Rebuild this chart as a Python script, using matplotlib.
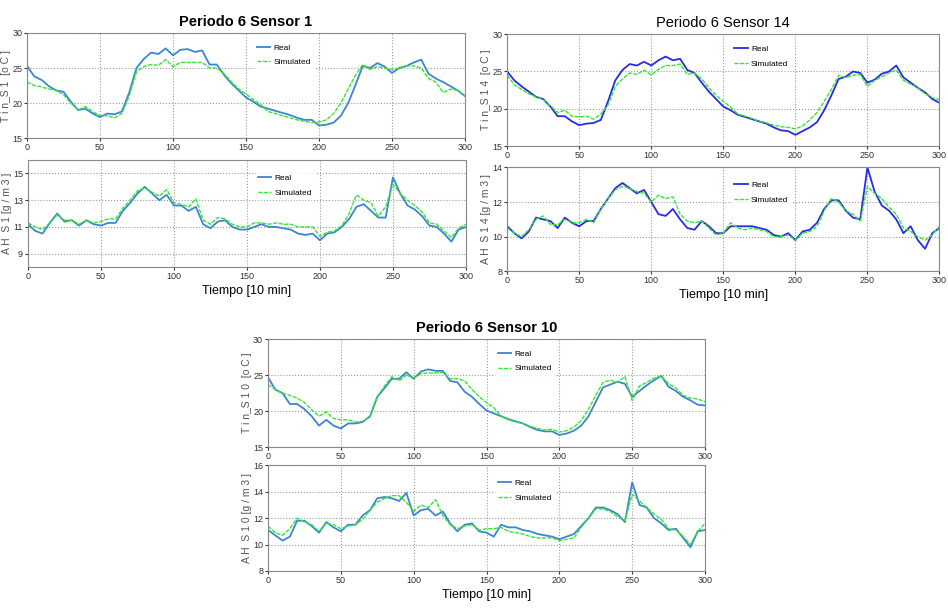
import numpy as np
import matplotlib
matplotlib.use("Agg")
import matplotlib.pyplot as plt
from matplotlib import font_manager

fams = {f.name for f in font_manager.fontManager.ttflist}
NARROW = 'Liberation Sans Narrow' if 'Liberation Sans Narrow' in fams else 'Liberation Sans'
plt.rcParams['font.family'] = [NARROW, 'DejaVu Sans']

t = np.arange(0, 301, 5)

s1_temp_real = [25.3, 23.8, 23.3, 22.4, 21.8, 21.6, 20.2, 19.0, 19.2, 18.5, 18.0, 18.5, 18.4, 18.8, 21.5, 25.0,
                26.3, 27.2, 27.0, 27.8, 26.8, 27.6, 27.7, 27.3, 27.5, 25.5, 25.5, 24.0, 22.8, 21.8, 20.8, 20.2,
                19.5, 19.2, 18.9, 18.6, 18.3, 17.9, 17.6, 17.6, 16.8, 16.9, 17.2, 18.2, 20.0, 22.6, 25.3, 25.0,
                25.7, 25.2, 24.3, 25.0, 25.3, 25.8, 26.2, 24.2, 23.5, 23.0, 22.4, 21.8, 21.0]
s1_temp_sim = [23.0, 22.5, 22.3, 22.0, 21.8, 21.2, 20.0, 19.0, 19.5, 18.8, 18.2, 18.2, 17.9, 18.5, 21.0, 24.5,
               25.2, 25.5, 25.4, 26.2, 25.2, 25.8, 25.8, 25.8, 25.8, 25.0, 25.0, 24.2, 23.0, 22.0, 21.3, 20.5,
               19.8, 18.8, 18.5, 18.2, 17.9, 17.6, 17.4, 17.2, 17.3, 17.6, 18.5, 20.0, 22.0, 24.0, 25.5, 24.8,
               25.2, 25.0, 24.8, 25.0, 25.3, 25.3, 25.0, 23.5, 23.0, 21.5, 22.0, 21.8, 21.0]
s1_hum_real = [11.2, 10.7, 10.5, 11.3, 12.0, 11.4, 11.5, 11.1, 11.5, 11.2, 11.1, 11.3, 11.3, 12.2, 12.8, 13.5,
               14.0, 13.5, 13.0, 13.4, 12.6, 12.6, 12.2, 12.5, 11.2, 10.9, 11.4, 11.5, 11.0, 10.8, 10.8, 11.0,
               11.2, 11.0, 11.0, 10.9, 10.8, 10.5, 10.4, 10.5, 10.0, 10.5, 10.6, 11.0, 11.6, 12.5, 12.7, 12.2,
               11.7, 11.7, 14.7, 13.5, 12.6, 12.3, 11.8, 11.1, 11.0, 10.5, 9.9, 10.8, 11.0]
s1_hum_sim = [11.3, 11.0, 10.8, 11.3, 11.9, 11.5, 11.5, 11.2, 11.5, 11.3, 11.4, 11.6, 11.6, 12.4, 13.0, 13.7,
              13.9, 13.6, 13.3, 13.8, 12.8, 12.7, 12.5, 13.1, 11.5, 11.2, 11.7, 11.6, 11.2, 11.0, 11.0, 11.3,
              11.3, 11.2, 11.3, 11.2, 11.2, 11.0, 11.0, 11.0, 10.3, 10.6, 10.7, 11.1, 12.0, 13.4, 13.0, 12.8,
              11.8, 12.5, 14.2, 13.5, 13.0, 12.6, 12.1, 11.3, 11.2, 10.7, 10.2, 10.9, 11.2]

s14_temp_real = [25.0, 23.8, 23.0, 22.3, 21.6, 21.3, 20.3, 19.0, 19.0, 18.3, 17.8, 18.0, 18.1, 18.5, 21.0, 23.8,
                 25.2, 26.0, 25.8, 26.3, 25.8, 26.5, 27.0, 26.5, 26.7, 25.2, 24.8, 23.5, 22.3, 21.3, 20.3, 19.8,
                 19.2, 18.9, 18.6, 18.3, 18.0, 17.5, 17.1, 17.0, 16.5, 17.0, 17.5, 18.2, 19.8, 21.8, 24.0, 24.3,
                 25.0, 24.8, 23.5, 23.9, 24.7, 25.0, 25.8, 24.2, 23.5, 22.8, 22.2, 21.3, 20.8]
s14_temp_sim = [24.5, 23.2, 22.6, 22.0, 21.6, 21.2, 20.4, 19.5, 19.8, 19.0, 18.9, 19.0, 18.6, 19.3, 20.5, 23.0,
                24.0, 24.8, 24.6, 25.2, 24.5, 25.3, 25.8, 25.8, 26.0, 24.6, 24.8, 24.0, 22.8, 21.8, 21.0, 20.2,
                19.3, 19.0, 18.7, 18.3, 18.1, 17.8, 17.6, 17.5, 17.3, 17.7, 18.5, 19.5, 21.0, 22.6, 24.5, 24.2,
                24.5, 24.6, 23.0, 23.8, 24.3, 24.8, 25.2, 23.8, 23.3, 22.8, 22.0, 21.5, 21.2]
s14_hum_real = [10.6, 10.2, 9.9, 10.3, 11.1, 11.0, 10.9, 10.5, 11.1, 10.8, 10.6, 10.9, 10.9, 11.6, 12.2, 12.8,
                13.1, 12.8, 12.5, 12.7, 12.0, 11.3, 11.2, 11.6, 11.0, 10.5, 10.4, 10.9, 10.6, 10.2, 10.2, 10.6,
                10.6, 10.6, 10.6, 10.5, 10.4, 10.1, 10.0, 10.2, 9.8, 10.3, 10.4, 10.8, 11.6, 12.1, 12.1, 11.5,
                11.1, 11.0, 14.0, 12.6, 11.8, 11.5, 11.0, 10.2, 10.6, 9.8, 9.3, 10.2, 10.5]
s14_hum_sim = [10.5, 10.2, 10.0, 10.4, 11.0, 11.2, 10.7, 10.7, 11.0, 10.8, 10.8, 11.0, 10.8, 11.6, 12.2, 12.7,
               12.9, 12.8, 12.6, 12.5, 12.0, 12.4, 12.2, 12.3, 11.3, 10.9, 10.8, 10.9, 10.5, 10.1, 10.2, 10.8,
               10.5, 10.4, 10.5, 10.4, 10.3, 10.0, 10.0, 10.1, 9.8, 10.2, 10.3, 10.6, 11.5, 12.2, 12.0, 11.5,
               11.3, 10.9, 12.9, 12.5, 12.2, 11.7, 11.3, 10.5, 10.3, 10.0, 9.8, 10.1, 10.6]

s10_temp_real = [24.7, 23.0, 22.5, 21.0, 21.0, 20.3, 19.3, 18.0, 18.8, 18.0, 17.6, 18.3, 18.3, 18.5, 19.3, 22.0,
                 23.2, 24.5, 24.5, 25.4, 24.5, 25.5, 25.8, 25.6, 25.6, 24.2, 24.0, 22.7, 22.0, 21.0, 20.1, 19.7,
                 19.3, 18.9, 18.6, 18.3, 17.8, 17.4, 17.2, 17.2, 16.7, 16.9, 17.3, 18.0, 19.3, 21.3, 23.3, 23.7,
                 24.1, 23.8, 22.0, 22.8, 23.6, 24.3, 24.9, 23.4, 22.8, 22.0, 21.5, 20.9, 20.8]
s10_temp_sim = [23.7, 23.0, 22.5, 22.2, 21.8, 21.2, 20.2, 19.3, 19.9, 19.0, 18.8, 18.8, 18.5, 18.6, 19.2, 22.0,
                23.5, 24.8, 24.2, 25.0, 24.6, 25.2, 25.3, 25.3, 25.4, 24.5, 24.5, 24.2, 23.0, 22.0, 21.2, 20.5,
                19.3, 18.8, 18.5, 18.3, 17.9, 17.6, 17.4, 17.5, 17.1, 17.3, 17.8, 18.7, 20.3, 22.2, 24.0, 24.3,
                24.0, 24.8, 21.5, 23.5, 24.0, 24.6, 24.9, 23.8, 23.2, 22.2, 21.8, 21.7, 21.3]
s10_hum_real = [11.1, 10.7, 10.3, 10.6, 11.8, 11.8, 11.4, 10.9, 11.7, 11.3, 11.0, 11.5, 11.5, 12.2, 12.6, 13.5,
                13.6, 13.5, 13.3, 13.9, 12.2, 12.6, 12.7, 12.2, 12.5, 11.6, 11.0, 11.5, 11.6, 11.0, 10.9, 10.6,
                11.5, 11.3, 11.3, 11.1, 11.0, 10.8, 10.7, 10.6, 10.4, 10.6, 10.8, 11.4, 12.0, 12.8, 12.8, 12.6,
                12.3, 11.7, 14.7, 13.0, 12.8, 12.0, 11.6, 11.1, 11.2, 10.5, 9.8, 11.0, 11.1]
s10_hum_sim = [11.4, 10.9, 10.7, 11.2, 12.0, 11.7, 11.5, 11.0, 11.6, 11.5, 11.2, 11.4, 11.5, 11.9, 12.6, 13.2,
               13.5, 13.7, 13.7, 13.2, 12.5, 13.0, 12.8, 13.4, 12.2, 11.5, 11.2, 11.4, 11.5, 11.1, 11.2, 11.2,
               11.3, 11.0, 10.9, 10.8, 10.6, 10.5, 10.5, 10.5, 10.3, 10.4, 10.5, 11.3, 12.0, 12.7, 12.7, 12.5,
               12.1, 11.8, 13.8, 13.3, 12.8, 12.3, 11.9, 11.2, 11.1, 10.6, 10.0, 11.0, 11.6]

xticks = [0, 50, 100, 150, 200, 250, 300]

fig = plt.figure(figsize=(9.48, 6.11), dpi=100)

GREEN = '#33e633'
GRAY = '#555555'

def style(ax, ylim, yticks):
    ax.set_xlim(0, 300)
    ax.set_ylim(*ylim)
    ax.set_xticks(xticks)
    ax.set_yticks(yticks)
    ax.grid(True, linestyle=':', color='#999999', linewidth=0.8)
    ax.tick_params(labelsize=6.5, length=2, pad=1.5, colors='#333333')
    for s in ax.spines.values():
        s.set_color('#888888')
        s.set_linewidth(0.8)

LEG = dict(loc='upper left', fontsize=6, frameon=True, fancybox=False, edgecolor='white',
           handlelength=1.6, handletextpad=0.4, borderpad=0.3, labelspacing=0.8)

def panel(rect_t, rect_h, title, bold, real_c, tr, ts, hr, hs, hlim, hticks, tlabel, hlabel):
    ax1 = fig.add_axes(rect_t)
    ax1.plot(t, tr, color=real_c, lw=1.3, label='Real')
    ax1.plot(t, ts, color=GREEN, lw=1.0, ls=(0, (3, 1)), label='Simulated')
    style(ax1, (15, 30), [15, 20, 25, 30])
    ax1.set_title(title, fontsize=10.5, fontweight='bold' if bold else 'normal', pad=5)
    ax1.set_ylabel(tlabel, fontsize=7.5, color=GRAY, labelpad=1)
    ax1.legend(bbox_to_anchor=(0.51, 0.96), **LEG)
    ax2 = fig.add_axes(rect_h)
    ax2.plot(t, hr, color=real_c, lw=1.3, label='Real')
    ax2.plot(t, hs, color=GREEN, lw=1.0, ls=(0, (3, 1)), label='Simulated')
    style(ax2, hlim, hticks)
    ax2.set_ylabel(hlabel, fontsize=7.5, color=GRAY, labelpad=1)
    ax2.set_xlabel('Tiempo [10 min]', fontsize=9, labelpad=3)
    ax2.legend(bbox_to_anchor=(0.51, 0.93), **LEG)

W = 0.462
panel([0.0285, 0.774, W, 0.172], [0.0295, 0.563, W, 0.175], 'Periodo 6 Sensor 1', True, '#3c86cf',
      s1_temp_real, s1_temp_sim, s1_hum_real, s1_hum_sim, (8, 16), [9, 11, 13, 15],
      'T i n_S 1  [o C ]', 'A H  S 1 [g / m 3 ]')
panel([0.535, 0.761, 0.456, 0.183], [0.535, 0.556, 0.456, 0.170], 'Periodo 6 Sensor 14', False, '#2a2ae6',
      s14_temp_real, s14_temp_sim, s14_hum_real, s14_hum_sim, (8, 14), [8, 10, 12, 14],
      'T i n_S 1 4  [o C ]', 'A H  S 1 4 [g / m 3 ]')
panel([0.2827, 0.268, 0.461, 0.177], [0.2827, 0.0655, 0.461, 0.173], 'Periodo 6 Sensor 10', True, '#3c86cf',
      s10_temp_real, s10_temp_sim, s10_hum_real, s10_hum_sim, (8, 16), [8, 10, 12, 14, 16],
      'T i n_S 1 0  [o C ]', 'A H  S 1 0 [g / m 3 ]')

fig.savefig('out.png', dpi=100)
